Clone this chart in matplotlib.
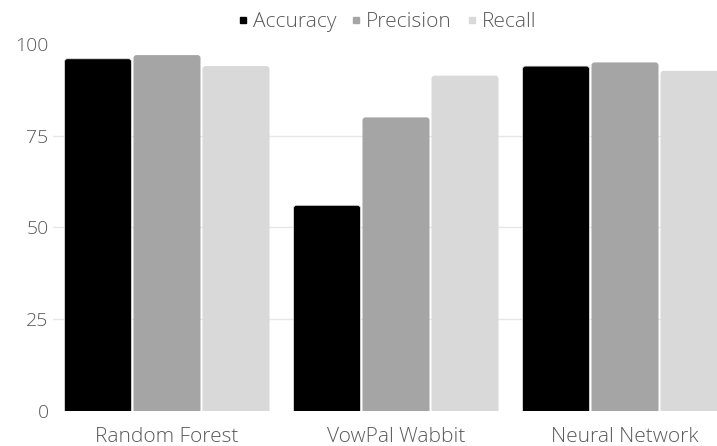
import matplotlib
matplotlib.use("Agg")
import matplotlib.pyplot as plt
import numpy as np
from matplotlib.patches import FancyBboxPatch
from matplotlib.lines import Line2D

categories = ["Random Forest", "VowPal Wabbit", "Neural Network"]
series_names = ["Accuracy", "Precision", "Recall"]
accuracy = [96, 56, 94]
precision = [97, 80, 95]
recall = [94, 91.4, 92.7]
colors = ["#000000", "#a5a5a5", "#d9d9d9"]
yticks = [0, 25, 50, 75, 100]

plt.rcParams['font.family'] = ['Open Sans', 'DejaVu Sans']
plt.rcParams['font.weight'] = 'light'
text_color = "#595959"

W, H = 717, 446
fig = plt.figure(figsize=(W / 100, H / 100), dpi=100)
ax = fig.add_axes([52.5 / W, (H - 410.5) / H, (W - 52.5) / W, (410.5 - 44.1) / H])

x = np.arange(len(categories))
bw = 67 / 229
gap = 2 / 229
vals = [accuracy, precision, recall]
ax.set_ylim(0, 100)
ax.set_xlim(-0.5, -0.5 + (W - 52.5) / 229)

# pixel sizes of one data unit, for rounded corners
px_x = (W - 52.5) / (ax.get_xlim()[1] - ax.get_xlim()[0])
px_y = (410.5 - 44.1) / 100.0
r_px = 3.0
for i, (name, v, c) in enumerate(zip(series_names, vals, colors)):
    offs = (i - 1) * (bw + gap)
    bars = ax.bar(x + offs, v, width=bw, color=c, label=name, zorder=3)
    for b in bars:
        b.set_visible(False)
        bx, by = b.get_x(), b.get_y()
        bwid, bh = b.get_width(), b.get_height()
        fb = FancyBboxPatch((bx, by - 2), bwid, bh + 2,
                            boxstyle=f"round,pad=0,rounding_size={r_px / px_x}",
                            mutation_aspect=(px_x / px_y),
                            facecolor=c,
                            edgecolor="#dcdcdc" if i == 0 else c,
                            linewidth=0.6 if i == 0 else 0, zorder=3)
        ax.add_patch(fb)

ax.set_yticks(yticks)
ax.set_yticklabels([str(t) for t in yticks], fontsize=14, color=text_color,
                   fontweight='light')
ax.set_xticks(x)
ax.set_xticklabels(categories, fontsize=15, color=text_color, fontweight='light')
ax.tick_params(axis='x', length=0, pad=12)
ax.tick_params(axis='y', length=0, pad=2.8)
ax.yaxis.grid(False)
for t in yticks[1:-1]:
    ax.axhline(t, color="#e6e6e6", linewidth=1, zorder=0)
for s in ax.spines.values():
    s.set_visible(False)

handles = [Line2D([], [], marker='s', linestyle='none', markersize=4.2,
                  markerfacecolor=c, markeredgecolor=c, label=n)
           for n, c in zip(series_names, colors)]
fig.legend(handles=handles, loc="center", bbox_to_anchor=(388 / W, 1 - 22 / H),
           ncol=3, frameon=False, prop={'size': 15, 'weight': 'light'},
           handlelength=0.3, handletextpad=0.34, columnspacing=0.8,
           labelcolor=text_color)

fig.savefig("out.png", dpi=100)
